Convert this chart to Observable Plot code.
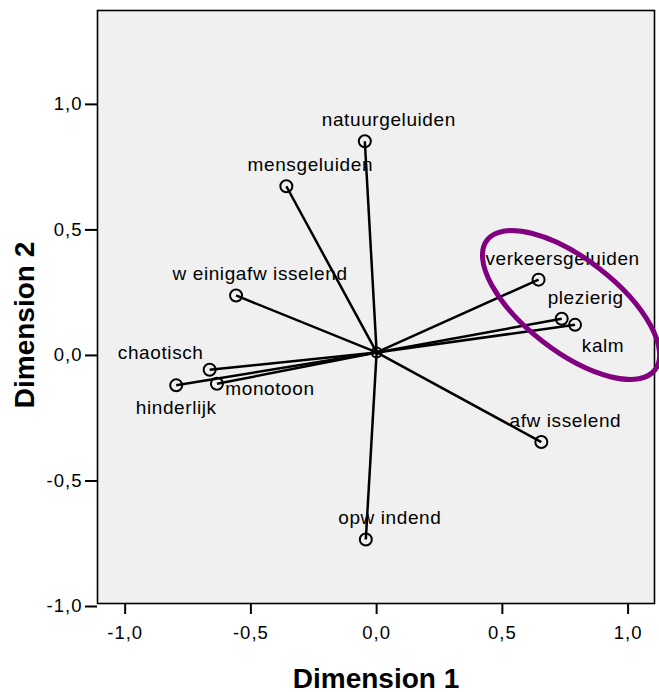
<!DOCTYPE html>
<html><head><meta charset="utf-8">
<script src="https://cdn.jsdelivr.net/npm/d3@7"></script>
<script src="https://cdn.jsdelivr.net/npm/@observablehq/plot@0.6"></script>
<style>
body{margin:0;background:#fff;}
#chart svg{display:block;}
</style>
</head><body><div id="chart"></div>
<script>
// ---- data ----
const labels = ["natuurgeluiden","mensgeluiden","w einigafw isselend","chaotisch","hinderlijk","monotoon","opw indend","afw isselend","verkeersgeluiden","plezierig","kalm"];
const dim1 = [-0.047,-0.359,-0.559,-0.664,-0.797,-0.635,-0.043,0.655,0.644,0.736,0.789];
const dim2 = [0.841,0.662,0.227,-0.069,-0.131,-0.125,-0.745,-0.357,0.290,0.134,0.110];
const origin = [0, 0];
const tickValues = [-1, -0.5, 0, 0.5, 1];
const tickLabels = ["-1,0", "-0,5", "0,0", "0,5", "1,0"];
const axisTitles = ["Dimension 1", "Dimension 2"];
// highlighted cluster (data units): centre, semi-axes, angle (deg, screen)
const ellipseCenter = [0.775, 0.187];
const ellipseRadii = [0.422, 0.184];
const ellipseAngle = 37.7;

// ---- layout ----
const labelOffset = {
  "chaotisch": [-49, -11],
  "hinderlijk": [0, 29],
  "monotoon": [53, 11],
  "kalm": [28, 27]
};
const defaultOffset = [24, -15];
const idx = d3.range(labels.length);

const labelMarks = idx.map(i => {
  const [dx, dy] = labelOffset[labels[i]] || defaultOffset;
  return Plot.text([i], {x: j => dim1[j], y: j => dim2[j], text: j => labels[j], dx, dy,
    lineAnchor: "bottom", textAnchor: "middle", fontSize: 19, fill: "black"});
});

const fmt = d => tickLabels[tickValues.indexOf(d)];

const chart = Plot.plot({
  width: 659, height: 692,
  marginLeft: 97, marginRight: 5, marginTop: 10, marginBottom: 89,
  style: {fontFamily: "'Liberation Sans', Arial, sans-serif", fontSize: "18.5px", color: "black", background: "white", overflow: "visible"},
  x: {domain: [-1.11, 1.105]},
  y: {domain: [-1.0, 1.362]},
  marks: [
    Plot.frame({fill: "#f0f0f0", stroke: "none"}),
    Plot.axisX({ticks: tickValues, tickFormat: fmt, tickSize: 11, tickPadding: 11, strokeWidth: 2, label: null, fontSize: 18.5}),
    Plot.axisY({ticks: tickValues, tickFormat: fmt, tickSize: 12, tickPadding: 3, strokeWidth: 2, label: null, fontSize: 18.5, dy: 3}),
    Plot.link(idx, {x1: () => origin[0], y1: () => origin[1], x2: i => dim1[i], y2: i => dim2[i], stroke: "black", strokeWidth: 2.5}),
    Plot.dot([origin], {x: d => d[0], y: d => d[1], r: 5, stroke: "black", strokeWidth: 2, fill: "none"}),
    Plot.dot(idx, {x: i => dim1[i], y: i => dim2[i], r: 6, stroke: "black", strokeWidth: 2, fill: "none"}),
    ...labelMarks,
    Plot.frame({stroke: "black", strokeWidth: 1.6}),
    Plot.text([axisTitles[0]], {text: d => d, frameAnchor: "bottom", textAnchor: "middle", dy: 84, lineAnchor: "bottom", fontWeight: "bold", fontSize: 28, fill: "black"}),
    Plot.text([axisTitles[1]], {text: d => d, frameAnchor: "left", textAnchor: "middle", rotate: -90, dx: -64, dy: 18, lineAnchor: "bottom", fontWeight: "bold", fontSize: 28, fill: "black"})
  ]
});

document.getElementById("chart").appendChild(chart);

const svg = d3.select(chart);
svg.selectAll("text").filter(function() { return labels.includes(this.textContent); })
  .style("letter-spacing", "0.6px");
svg.selectAll("text").filter(function() { return tickLabels.includes(this.textContent); })
  .style("letter-spacing", "1px");

// highlight ellipse via the plot's own scales
const sx = chart.scale("x"), sy = chart.scale("y");
const cx = sx.apply(ellipseCenter[0]), cy = sy.apply(ellipseCenter[1]);
const rx = Math.abs(sx.apply(ellipseRadii[0]) - sx.apply(0));
const ry = Math.abs(sy.apply(ellipseRadii[1]) - sy.apply(0));
svg.append("ellipse")
  .attr("cx", cx).attr("cy", cy).attr("rx", rx).attr("ry", ry)
  .attr("transform", `rotate(${ellipseAngle} ${cx} ${cy})`)
  .attr("fill", "none").attr("stroke", "#800080").attr("stroke-width", 5);
</script>
</body></html>
